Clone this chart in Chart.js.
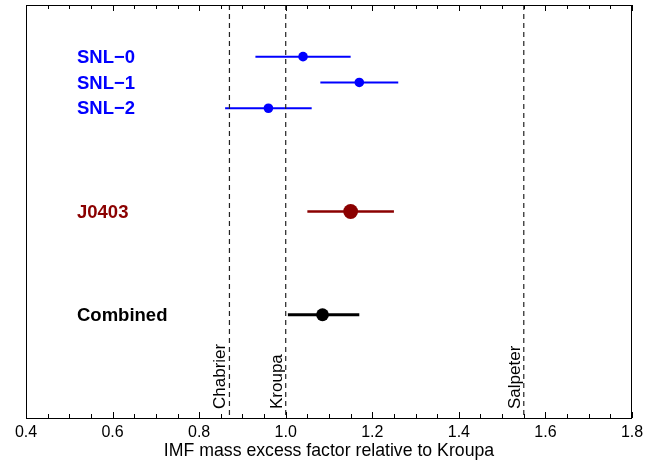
<!DOCTYPE html>
<html>
<head>
<meta charset="utf-8">
<script src="https://cdn.jsdelivr.net/npm/chart.js@4.4.1/dist/chart.umd.min.js"></script>
<style>
  html, body { margin: 0; padding: 0; background: #fff; }
  #wrap { width: 657px; height: 462px; }
</style>
</head>
<body>
<div id="wrap"><canvas id="imf"></canvas></div>
<script>
// measurements, rows counted from the top of the panel
const rowNames = ["SNL\u22120", "SNL\u22121", "SNL\u22122", "J0403", "Combined"];
const rowY = [2, 3, 4, 8, 12];
const centers = [1.04, 1.17, 0.96, 1.15, 1.085];
const lowerEnd = [0.93, 1.08, 0.86, 1.05, 1.005];
const upperEnd = [1.15, 1.26, 1.06, 1.25, 1.17];

// reference IMFs
const imfNames = ["Chabrier", "Kroupa", "Salpeter"];
const imfValues = [0.87, 1.0, 1.55];

const xMajorTicks = [0.4, 0.6, 0.8, 1.0, 1.2, 1.4, 1.6, 1.8];
const xMinorTicks = [0.45, 0.5, 0.55, 0.65, 0.7, 0.75, 0.85, 0.9, 0.95, 1.05, 1.1, 1.15,
  1.25, 1.3, 1.35, 1.45, 1.5, 1.55, 1.65, 1.7, 1.75];
const xTitle = "IMF mass excess factor relative to Kroupa";

const rowColors = ["#0000ff", "#0000ff", "#0000ff", "#8b0000", "#000000"];
const rowLineW = [2, 2, 2, 2.6, 2.8];
const rowDot = [4.8, 4.8, 4.8, 7.4, 6.4];
const FONT = "'Liberation Sans', Arial, Helvetica, sans-serif";

const datasets = [];
imfValues.forEach(v => {
  datasets.push({
    type: "line",
    data: [{ x: v, y: 0 }, { x: v, y: 16 }],
    borderColor: "#222",
    borderWidth: 1.2,
    borderDash: [5, 4],
    pointRadius: 0
  });
});
rowNames.forEach((name, i) => {
  datasets.push({
    type: "line",
    data: [{ x: lowerEnd[i], y: rowY[i] }, { x: upperEnd[i], y: rowY[i] }],
    borderColor: rowColors[i],
    borderWidth: rowLineW[i],
    pointRadius: 0
  });
  datasets.push({
    type: "scatter",
    data: [{ x: centers[i], y: rowY[i] }],
    backgroundColor: rowColors[i],
    borderColor: rowColors[i],
    borderWidth: 0,
    pointRadius: rowDot[i]
  });
});

const decorations = {
  id: "decorations",
  afterDatasetsDraw(chart) {
    const { ctx, chartArea: a, scales: { x, y } } = chart;
    ctx.save();
    // inward ticks, bottom and top
    ctx.strokeStyle = "#000";
    ctx.lineWidth = 1;
    const tick = (v, len) => {
      const px = Math.round(x.getPixelForValue(v)) + 0.5;
      ctx.beginPath();
      ctx.moveTo(px, a.bottom); ctx.lineTo(px, a.bottom - len);
      ctx.moveTo(px, a.top); ctx.lineTo(px, a.top + len);
      ctx.stroke();
    };
    xMajorTicks.forEach(v => tick(v, 6));
    xMinorTicks.forEach(v => tick(v, 4));
    ctx.strokeRect(Math.round(a.left) + 0.5, Math.round(a.top) + 0.5,
      Math.round(a.width) - 1, Math.round(a.height));

    // row labels
    ctx.font = "bold 18.5px " + FONT;
    ctx.textBaseline = "middle";
    ctx.textAlign = "left";
    rowNames.forEach((name, i) => {
      ctx.fillStyle = rowColors[i];
      ctx.fillText(name, a.left + 51, y.getPixelForValue(rowY[i]) + 1);
    });

    // IMF names along the dashed lines
    ctx.font = "17px " + FONT;
    ctx.fillStyle = "#000";
    imfNames.forEach((name, i) => {
      const px = x.getPixelForValue(imfValues[i]);
      ctx.save();
      ctx.translate(px - 4, a.bottom - 9);
      ctx.rotate(-Math.PI / 2);
      ctx.textAlign = "left";
      ctx.textBaseline = "alphabetic";
      ctx.fillText(name, 0, 0);
      ctx.restore();
    });
    ctx.restore();
  }
};

new Chart(document.getElementById("imf"), {
  data: { datasets },
  options: {
    responsive: true,
    maintainAspectRatio: false,
    animation: false,
    events: [],
    layout: { autoPadding: false, padding: { left: 26, right: 25, top: 5, bottom: 0 } },
    plugins: { legend: { display: false }, tooltip: { enabled: false } },
    scales: {
      x: {
        type: "linear",
        min: 0.4,
        max: 1.8,
        afterBuildTicks: s => { s.ticks = xMajorTicks.map(v => ({ value: v })); },
        afterFit: s => { s.height = 44; },
        ticks: {
          callback: v => Number(v).toFixed(1),
          color: "#000",
          font: { family: FONT, size: 16 },
          padding: 5,
          maxRotation: 0,
          autoSkip: false
        },
        grid: { display: false, drawTicks: false },
        border: { display: false },
        title: {
          display: true,
          text: xTitle,
          color: "#000",
          font: { family: FONT, size: 17.7 },
          padding: { top: 0, bottom: 0 }
        }
      },
      y: {
        type: "linear",
        min: 0,
        max: 16,
        reverse: true,
        display: false
      }
    }
  },
  plugins: [decorations]
});
</script>
</body>
</html>
